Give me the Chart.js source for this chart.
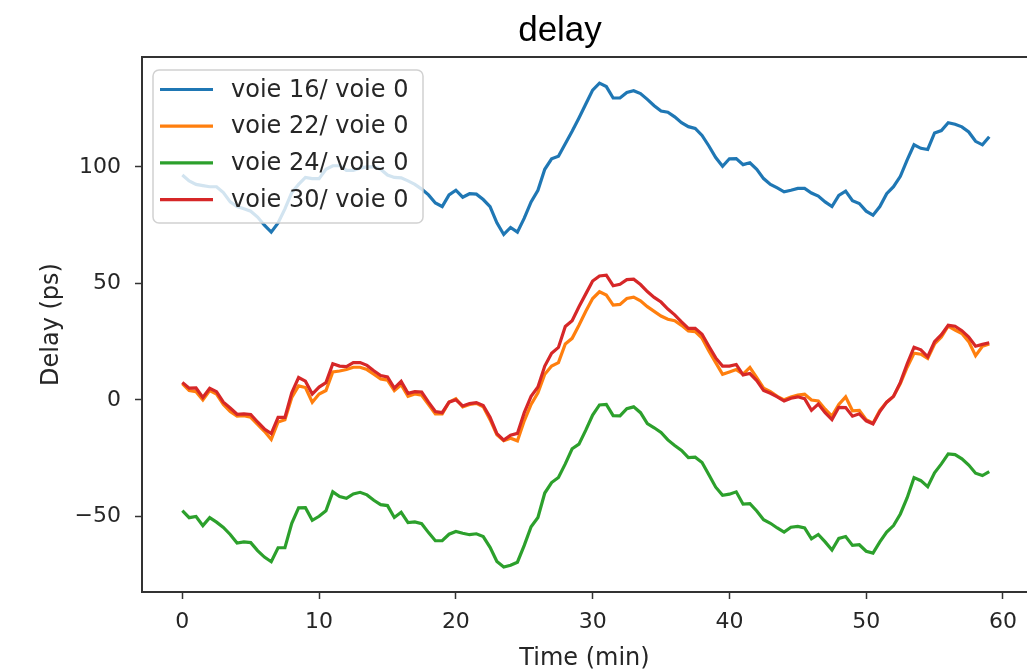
<!DOCTYPE html>
<html>
<head>
<meta charset="utf-8">
<script src="https://cdn.jsdelivr.net/npm/chart.js@4.4.1/dist/chart.umd.min.js"></script>
<style>
  html, body { margin: 0; padding: 0; background: #fff; }
</style>
</head>
<body>
<canvas id="chart" width="1027" height="671"></canvas>
<script>
// time axis (min), one sample every 30 s
const times = [0,0.5,1,1.5,2,2.5,3,3.5,4,4.5,5,5.5,6,6.5,7,7.5,8,8.5,9,9.5,
  10,10.5,11,11.5,12,12.5,13,13.5,14,14.5,15,15.5,16,16.5,17,17.5,18,18.5,19,19.5,
  20,20.5,21,21.5,22,22.5,23,23.5,24,24.5,25,25.5,26,26.5,27,27.5,28,28.5,29,29.5,
  30,30.5,31,31.5,32,32.5,33,33.5,34,34.5,35,35.5,36,36.5,37,37.5,38,38.5,39,39.5,
  40,40.5,41,41.5,42,42.5,43,43.5,44,44.5,45,45.5,46,46.5,47,47.5,48,48.5,49,49.5,
  50,50.5,51,51.5,52,52.5,53,53.5,54,54.5,55,55.5,56,56.5,57,57.5,58,58.5,59]

const voie16 = [96.5,94,92.5,92,91.5,91.5,89,85,83,82,
  81,78.5,75,72,76,82,89,92.5,95.5,95,
  95,99,100.5,100.5,98.5,98.5,99.5,100,100,99,
  96.5,95.5,95.3,94,92.5,90.5,88,84.5,83,88,
  90,87,88.5,88.3,86,83,76,71,74,72,
  78,85,90,99,103.5,104.6,110,115.3,121,127,
  133,136,134.5,129.6,129.6,132,132.7,131.5,129,126.3,
  124,123.5,121.5,119,117.3,116.5,113.5,109,104,100.3,
  103.5,103.6,101,101.8,99,95,92.5,91,89.3,90,
  90.8,90.8,88.8,87.5,85,83,87.8,89.6,85.5,84.3,
  81,79.3,83,88.5,91.5,96,103,109.5,108,107.5,
  114.6,115.6,119,118.3,117.2,115,111,109.5,113]

const voie22 = [7,4,3.5,0,4,2.5,-2,-5,-7,-6.8,
  -7.5,-10.5,-13.5,-17,-9.5,-8.5,1,6,5.3,-1,
  2.5,4,12,12.4,13,14,14,13,11,9,
  8.5,4,6.5,1.5,2.5,2,-2,-6,-6,-1,
  0.5,-3,-2,-1.5,-3,-8.5,-15,-17.5,-16.5,-17.6,
  -9,-2,3,11,14.5,16,24,26.4,32,38,
  43.5,46.4,45,40.7,41,43.5,44.1,42.5,40,38,
  36,34.6,34,32,29.6,29.3,26.5,21,16,11,
  12,13,11,13.9,9.5,5,3.5,1.5,0,1.2,
  2,2.4,-0.1,-0.5,-4,-7,-2,1.3,-4.7,-4.5,
  -8.5,-10,-4.5,-1,1.5,7,14,20,19.6,17.8,
  24,27,31.7,30,28.5,25,19,23,24]

const voie24 = [-47.6,-50.6,-50.1,-54,-50.6,-52.5,-54.8,-57.8,-61.5,-61,
  -61.3,-64.7,-67.5,-69.5,-63.5,-63.5,-53,-46.4,-46.3,-51.7,
  -50,-47.6,-39.5,-41.5,-42.3,-40.4,-39.7,-40.8,-43.1,-45,
  -45.4,-50.5,-48.3,-52.7,-52.4,-53.2,-57,-60.5,-60.5,-57.7,
  -56.5,-57.3,-57.9,-57.5,-58.7,-63.3,-69.4,-71.8,-71,-69.7,
  -62.5,-54.5,-50.5,-40,-35.5,-33.3,-27.5,-21,-19,-13,
  -6.5,-2.2,-2,-6.8,-6.9,-3.8,-3,-5.5,-10.2,-12,
  -14,-17.2,-19.6,-21.7,-24.8,-24.6,-26.9,-32.2,-37.5,-41,
  -40.5,-39.5,-44.8,-44.6,-47.7,-51.5,-53,-55,-56.8,-54.7,
  -54.3,-55,-59.7,-57.8,-61,-64.5,-59.5,-58.7,-62.5,-62.2,
  -65,-65.8,-61,-56.8,-54,-49,-42,-33.4,-34.7,-37.3,
  -31.3,-27.5,-23.2,-23.5,-25.3,-28,-31.5,-32.5,-30.8]

const voie30 = [7.5,5,5.1,1,5,3.5,-1,-3.5,-6.2,-6,
  -6.3,-9.5,-12.5,-14.5,-7.5,-7.5,3,9.6,8,2.5,
  5.5,7.4,15.5,14.5,14.3,16,16,14.8,12.5,10.4,
  9.8,5,7.9,2.8,3.5,3.3,-1,-5,-5.5,-1,
  0,-2.6,-1.6,-1.2,-2.4,-7.5,-14.5,-17.3,-15.2,-14.4,
  -5.5,1.5,5.5,14.5,20,22.5,31.5,34,40,45.5,
  51,53.2,53.5,49,49.6,51.6,51.8,49.5,46.5,44,
  42,39,36.5,33.5,30.7,30.7,28.2,23,18,14.5,
  14.5,15.2,10.7,11.3,8.3,4,2.8,1.3,-0.5,0.7,
  1.3,0.5,-4.5,-1.8,-5.5,-8.5,-3.2,-3.3,-7,-6,
  -9,-10.3,-5,-1,1.5,7.5,15.5,22.6,21.5,18.5,
  25,28,32,31.6,29.7,27,23,23.8,24.5]

const seriesNames = ['voie 16/ voie 0', 'voie 22/ voie 0', 'voie 24/ voie 0', 'voie 30/ voie 0']
const seriesValues = [voie16, voie22, voie24, voie30]
const colors = ['#1f77b4', '#ff7f0e', '#2ca02c', '#d62728']

const xTicks = [0, 10, 20, 30, 40, 50, 60]
const yTicks = [-50, 0, 50, 100]

const FONT = "'DejaVu Sans', sans-serif"
const ink = '#262626'
const spine = '#333333'

const datasets = seriesValues.map((vals, i) => ({
    label: seriesNames[i],
    data: times.map((t, k) => ({x: t, y: vals[k]})),
    borderColor: colors[i],
    backgroundColor: colors[i],
    borderWidth: 3.2,
    pointRadius: 0,
    tension: 0,
    fill: false,
    order: seriesValues.length - i
}))

// title, top spine and the in-plot legend (matplotlib style)
const decor = {
    id: 'decor',
    afterDatasetsDraw(chart) {
        const ctx = chart.ctx
        const a = chart.chartArea
        ctx.save()
        // top frame line
        ctx.strokeStyle = spine
        ctx.lineWidth = 2
        ctx.beginPath()
        ctx.moveTo(a.left - 1, a.top)
        ctx.lineTo(a.right, a.top)
        ctx.stroke()

        // legend box
        const bx = 153, by = 70, bw = 270, bh = 153, r = 6
        ctx.beginPath()
        ctx.moveTo(bx + r, by)
        ctx.arcTo(bx + bw, by, bx + bw, by + bh, r)
        ctx.arcTo(bx + bw, by + bh, bx, by + bh, r)
        ctx.arcTo(bx, by + bh, bx, by, r)
        ctx.arcTo(bx, by, bx + bw, by, r)
        ctx.closePath()
        ctx.fillStyle = 'rgba(255,255,255,0.8)'
        ctx.fill()
        ctx.strokeStyle = 'rgba(204,204,204,0.9)'
        ctx.lineWidth = 1.5
        ctx.stroke()

        ctx.font = '24px ' + FONT
        ctx.textBaseline = 'middle'
        ctx.textAlign = 'left'
        seriesNames.forEach((name, i) => {
            const y = 89.5 + i * 36.7
            ctx.strokeStyle = colors[i]
            ctx.lineWidth = 3.2
            ctx.beginPath()
            ctx.moveTo(160, y)
            ctx.lineTo(213, y)
            ctx.stroke()
            ctx.fillStyle = ink
            ctx.fillText(name, 231, y + 1)
        })

        // title
        ctx.font = "35px 'Liberation Sans', Arial, sans-serif"
        ctx.textAlign = 'center'
        ctx.fillStyle = '#000'
        ctx.fillText('delay', 560, 31)
        ctx.restore()
    }
}

new Chart(document.getElementById('chart'), {
    type: 'line',
    data: { datasets },
    plugins: [decor],
    options: {
        responsive: false,
        animation: false,
        layout: { padding: { top: 57, left: 0, right: 0, bottom: 0 } },
        plugins: { legend: { display: false }, title: { display: false }, tooltip: { enabled: false } },
        scales: {
            x: {
                type: 'linear',
                min: -2.95,
                max: 61.76,
                afterFit: s => { s.height = 79 },
                afterBuildTicks: s => { s.ticks = xTicks.map(v => ({value: v})) },
                grid: { drawOnChartArea: false, drawTicks: true, tickLength: 7, tickWidth: 1.5, tickColor: spine },
                border: { display: true, color: spine, width: 2 },
                ticks: { color: ink, font: { family: FONT, size: 22 }, padding: 10, maxRotation: 0 },
                title: { display: true, text: 'Time (min)', color: ink, font: { family: FONT, size: 24, lineHeight: 1.05 }, padding: { top: 0, bottom: 0 } }
            },
            y: {
                type: 'linear',
                min: -82.5,
                max: 147.2,
                afterFit: s => { s.width = 142 },
                afterBuildTicks: s => { s.ticks = yTicks.map(v => ({value: v})) },
                grid: { drawOnChartArea: false, drawTicks: true, tickLength: 7, tickWidth: 1.5, tickColor: spine },
                border: { display: true, color: spine, width: 2 },
                ticks: {
                    color: ink, font: { family: FONT, size: 22 }, padding: 14,
                    callback: v => v < 0 ? '\u2212' + Math.abs(v) : String(v)
                },
                title: { display: true, text: 'Delay (ps)', color: ink, font: { family: FONT, size: 24 }, padding: { top: 37, bottom: 0 } }
            }
        }
    }
})
</script>
</body>
</html>
